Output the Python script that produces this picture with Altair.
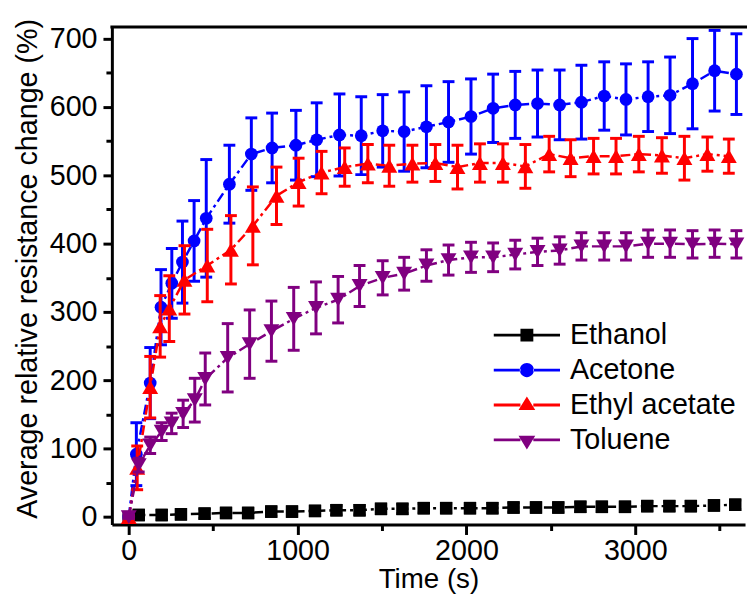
import altair as alt
import pandas as pd

names = ["Ethanol", "Acetone", "Ethyl acetate", "Toluene"]
colors = ["#000000", "#0000FF", "#FF0000", "#800080"]
shapes = ["square", "circle", "triangle-up", "triangle-down"]
sizes = [160, 165, 260, 260]

# legend symbols: line + marker drawn as one filled path
legend_paths = [
    "M-5.15,-0.22H-1V0.22H-5.15Z M1,-0.22H5.15V0.22H1Z M-1,-1H1V1H-1Z",
    "M-5.15,-0.22H-1V0.22H-5.15Z M1,-0.22H5.15V0.22H1Z M-1.1,0A1.1,1.1,0,1,0,1.1,0A1.1,1.1,0,1,0,-1.1,0Z",
    "M-5.15,-0.22H-1V0.22H-5.15Z M1,-0.22H5.15V0.22H1Z M0,-1.3L1.3,0.8L-1.3,0.8Z",
    "M-5.15,-0.22H-1V0.22H-5.15Z M1,-0.22H5.15V0.22H1Z M0,1.5L1.3,-0.65L-1.3,-0.65Z",
]

t_ethanol = [0, 59, 195, 309, 449, 576, 707, 844, 967, 1103, 1230, 1367, 1494, 1621,
             1747, 1880, 2021, 2154, 2279, 2412, 2544, 2675, 2802, 2939, 3071, 3202,
             3329, 3466, 3592]
v_ethanol = [0, 3, 3, 4, 5, 6, 6, 8, 8, 9, 10, 10, 12, 12, 13, 13, 13, 13, 14, 14, 14,
             15, 15, 15, 16, 16, 16, 17, 18]
e_ethanol = [2, 7, 7, 7, 7, 7, 7, 7, 7, 7, 7, 7, 7, 7, 7, 7, 7, 7, 7, 7, 7, 7, 7, 7,
             7, 7, 7, 7, 7]

t_acetone = [0, 45, 127, 191, 255, 318, 387, 459, 596, 726, 849, 990, 1113, 1248, 1377,
             1504, 1631, 1763, 1894, 2027, 2158, 2289, 2421, 2552, 2681, 2816, 2945,
             3076, 3206, 3339, 3470, 3599]
v_acetone = [0, 92, 196, 307, 342, 373, 404, 437, 487, 531, 540, 544, 552, 559, 558,
             565, 564, 571, 578, 586, 598, 603, 605, 603, 607, 616, 611, 615, 617, 634,
             653, 648]
e_acetone = [3, 46, 52, 55, 51, 60, 59, 86, 57, 53, 51, 51, 54, 60, 57, 53, 58, 60, 59,
             55, 50, 49, 49, 51, 54, 50, 52, 51, 56, 66, 59, 59]

t_ethyl = [0, 50, 127, 186, 240, 330, 465, 605, 735, 875, 1006, 1142, 1279, 1416, 1543,
           1680, 1816, 1947, 2080, 2216, 2349, 2490, 2617, 2753, 2886, 3021, 3158, 3291,
           3427, 3554]
v_ethyl = [0, 72, 190, 279, 305, 347, 368, 391, 426, 470, 490, 504, 512, 517, 514, 517,
           518, 512, 518, 518, 513, 531, 525, 528, 528, 531, 529, 525, 531, 528]
e_ethyl = [2, 32, 45, 45, 48, 50, 53, 50, 57, 42, 35, 31, 28, 28, 30, 27, 27, 32, 28, 28,
           32, 26, 27, 26, 26, 26, 26, 32, 25, 25]

t_toluene = [0, 59, 127, 195, 254, 322, 391, 453, 586, 716, 845, 977, 1109, 1240, 1367,
             1504, 1631, 1763, 1894, 2027, 2158, 2289, 2421, 2552, 2681, 2816, 2945,
             3076, 3206, 3339, 3470, 3599]
v_toluene = [0, 76, 105, 125, 137, 151, 171, 202, 233, 253, 272, 290, 306, 318, 338,
             350, 356, 368, 376, 380, 380, 384, 388, 390, 396, 396, 396, 400, 400, 399,
             400, 399]
e_toluene = [2, 10, 12, 13, 15, 20, 32, 38, 50, 50, 44, 46, 38, 34, 30, 25, 24, 23, 22,
             22, 21, 21, 20, 20, 20, 20, 20, 20, 20, 20, 20, 20]

x_ticks = list(range(0, 3501, 500))
y_ticks = list(range(0, 701, 50))

series = [
    (t_ethanol, v_ethanol, e_ethanol),
    (t_acetone, v_acetone, e_acetone),
    (t_ethyl, v_ethyl, e_ethyl),
    (t_toluene, v_toluene, e_toluene),
]

frames = []
for name, (t, v, e) in zip(names, series):
    frames.append(pd.DataFrame({
        "series": name, "t": t, "v": v,
        "lo": [a - b for a, b in zip(v, e)],
        "hi": [a + b for a, b in zip(v, e)],
    }))
df = pd.concat(frames, ignore_index=True)

FONT = "Liberation Sans"
xscale = alt.Scale(domain=[-100, 3650], nice=False, zero=False)
yscale = alt.Scale(domain=[-11, 717], nice=False, zero=False)

x_axis = alt.Axis(
    values=x_ticks, format="d",
    labelExpr="datum.value % 1000 === 0 ? datum.label : ''",
    tickSize={"condition": {"test": "datum.value % 1000 === 0", "value": 10}, "value": 6},
    tickWidth=3, tickColor="black", domainWidth=3, domainColor="black", grid=False,
    labelFont=FONT, labelFontSize=29, labelColor="black", labelPadding=2,
    title="Time (s)", titleFont=FONT, titleFontSize=28, titleFontWeight="normal",
    titleColor="black", titleX=320, titleY=64, titleBaseline="alphabetic",
    titleAlign="center",
)
y_axis = alt.Axis(
    values=y_ticks, format="d",
    labelExpr="datum.value % 100 === 0 ? datum.label : ''",
    tickSize={"condition": {"test": "datum.value % 100 === 0", "value": 9}, "value": 6},
    tickWidth=3, tickColor="black", domainWidth=3, domainColor="black", grid=False,
    labelFont=FONT, labelFontSize=29, labelColor="black", labelPadding=6,
    title="Average relative resistance change (%)", titleFont=FONT, titleFontSize=29,
    titleFontWeight="normal", titleColor="black", titleAngle=270, titleX=-76,
    titleY=244, titleBaseline="alphabetic", titleAlign="center",
)

X = alt.X("t:Q", scale=xscale, axis=x_axis)

layers = []
for name, col, shp, sz in zip(names, colors, shapes, sizes):
    d = alt.Chart(df).transform_filter(alt.datum.series == name)
    line = d.mark_line(color=col, strokeWidth=2.5, strokeDash=[10, 4, 3, 4]).encode(
        x=X, y=alt.Y("v:Q", scale=yscale, axis=y_axis),
    )
    bar = d.mark_rule(color=col, strokeWidth=3).encode(
        x=X, y=alt.Y("lo:Q", scale=yscale, axis=y_axis), y2="hi:Q",
    )
    cap_hi = d.mark_tick(color=col, orient="horizontal", size=12, thickness=3, opacity=1).encode(
        x=X, y=alt.Y("hi:Q", scale=yscale, axis=y_axis),
    )
    cap_lo = d.mark_tick(color=col, orient="horizontal", size=12, thickness=3, opacity=1).encode(
        x=X, y=alt.Y("lo:Q", scale=yscale, axis=y_axis),
    )
    pts = d.mark_point(color=col, shape=shp, size=sz, filled=True, opacity=1).encode(
        x=X, y=alt.Y("v:Q", scale=yscale, axis=y_axis),
    )
    layers += [line, bar, cap_hi, cap_lo, pts]

leg = alt.Legend(
    orient="none", legendX=405, legendY=297, title=None, symbolSize=169,
    labelFont=FONT, labelFontSize=29, labelColor="black", labelOffset=29,
    labelLimit=400, rowPadding=5.3, padding=0, symbolStrokeWidth=0, symbolOpacity=1,
)
legend_layer = alt.Chart(df).transform_filter("false").mark_point(
    filled=True, opacity=1
).encode(
    x=X, y=alt.Y("v:Q", scale=yscale, axis=y_axis),
    color=alt.Color("series:N", scale=alt.Scale(domain=names, range=colors), legend=leg),
    shape=alt.Shape("series:N", scale=alt.Scale(domain=names, range=legend_paths), legend=leg),
)

top_frame = alt.Chart(pd.DataFrame({"k": [0]})).mark_rule(
    color="black", strokeWidth=3
).encode(x=alt.value(-1.5), x2=alt.value(645), y=alt.value(0))

chart = alt.layer(*layers, legend_layer, top_frame).properties(
    width=640, height=503,
    autosize=alt.AutoSizeParams(type="none"),
    padding={"left": 105, "top": 16, "right": 2, "bottom": 67},
).configure_view(strokeWidth=0)

chart.save("out.html", embed_options={"renderer": "svg", "actions": False})
